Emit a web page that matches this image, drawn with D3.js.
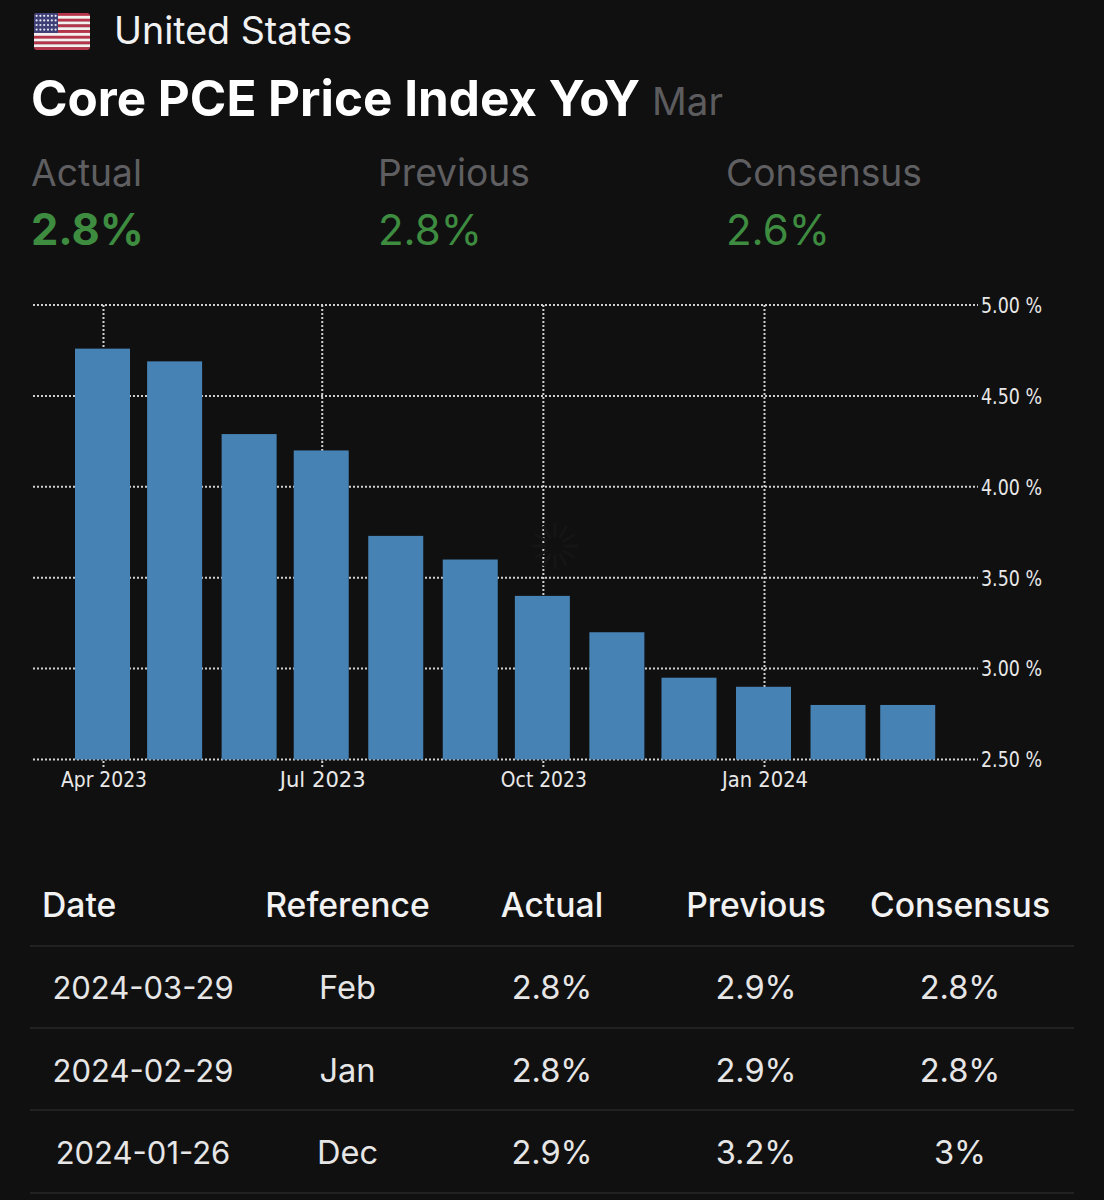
<!DOCTYPE html>
<html><head><meta charset="utf-8">
<script src="https://cdn.jsdelivr.net/npm/d3@7/dist/d3.min.js"></script>
<style>html,body{margin:0;padding:0;background:#111011;}svg{display:block}</style>
</head><body><svg id="c" width="1104" height="1200"></svg>
<script>
const months=["2023-04-01","2023-05-01","2023-06-01","2023-07-01","2023-08-01","2023-09-01","2023-10-01","2023-11-01","2023-12-01","2024-01-01","2024-02-01","2024-03-01"];
const values=[4.76,4.69,4.29,4.2,3.73,3.6,3.4,3.2,2.95,2.9,2.8,2.8];
const yTicks=[2.5,3,3.5,4,4.5,5];
const xTicks=["2023-04-01","2023-07-01","2023-10-01","2024-01-01"];
const stats=[["Actual","2.8%"],["Previous","2.8%"],["Consensus","2.6%"]];
const tableHead=["Date","Reference","Actual","Previous","Consensus"];
const tableRows=[["2024-03-29","Feb","2.8%","2.9%","2.8%"],["2024-02-29","Jan","2.8%","2.9%","2.8%"],["2024-01-26","Dec","2.9%","3.2%","3%"]];
const UI="Inter, 'Noto Sans', sans-serif", AX="'DejaVu Sans', sans-serif";
const svg=d3.select("#c");
const parse=d3.utcParse("%Y-%m-%d");
const x=d3.scaleUtc().domain([parse("2023-04-01"),parse("2024-01-01")]).range([103.5,764.5]);
const y=d3.scaleLinear().domain([2.5,5]).range([759.5,305]);
const barW=55, barShift=-1;

// flag
const flag=svg.append("g");
const fx=34,fy=13,fw=56,fh=37;
svg.append("clipPath").attr("id","fc").append("rect").attr("x",fx).attr("y",fy).attr("width",fw).attr("height",fh).attr("rx",3);
const fg=flag.append("g").attr("clip-path","url(#fc)");
d3.range(13).forEach(i=>fg.append("rect").attr("x",fx).attr("y",fy+i*fh/13).attr("width",fw).attr("height",fh/13+.3).attr("fill",i%2?"#f4f0f0":"#b5344a"));
fg.append("rect").attr("x",fx).attr("y",fy).attr("width",24).attr("height",fh*7/13).attr("fill","#3f3f78");
d3.range(4).forEach(r=>d3.range(6).forEach(c=>fg.append("circle").attr("cx",fx+2.6+c*3.8).attr("cy",fy+2.8+r*4.6).attr("r",1.1).attr("fill","#e8e8f0")));

const txt=(g,t,px,py,size,fill,weight,anchor,font)=>g.append("text").attr("x",px).attr("y",py).attr("font-size",size).attr("fill",fill).attr("font-weight",weight||400).attr("text-anchor",anchor||"start").attr("font-family",font||UI).text(t);
txt(svg,"United States",114,44,37.6,"#f2f2f2",400);
txt(svg,"Core PCE Price Index YoY",31,116,49.4,"#ffffff",700);
txt(svg,"Mar",652,115,38.5,"#5c5c5e",400);

const sx=[31,378,726];
stats.forEach((s,i)=>{
  txt(svg,s[0],sx[i],186,37.2,"#5f5f61",400);
  txt(svg,s[1],sx[i],245,i==0?43.4:42,"#3d8c40",i==0?700:400);
});

// grid
const grid=svg.append("g");
const applyDot=s=>s.attr("stroke","#cfcfcf").attr("stroke-width",2).attr("stroke-dasharray","2 2");
grid.selectAll("line.h").data(yTicks).join("line").attr("x1",33).attr("x2",978).attr("y1",d=>y(d)).attr("y2",d=>y(d)).call(applyDot);
grid.selectAll("line.v").data(xTicks).join("line").attr("x1",d=>x(parse(d))).attr("x2",d=>x(parse(d))).attr("y1",y(5)).attr("y2",y(2.5)+8).call(applyDot);

// faint spinner
const sp=svg.append("g").attr("transform","translate(555,546)");
d3.range(12).forEach(i=>sp.append("line").attr("x1",0).attr("y1",-9).attr("x2",0).attr("y2",-23).attr("stroke","#161516").attr("stroke-width",3).attr("transform",`rotate(${i*30})`));

// bars
svg.append("g").selectAll("rect").data(months).join("rect")
 .attr("x",d=>x(parse(d))-barW/2+barShift).attr("width",barW)
 .attr("y",(d,i)=>y(values[i])).attr("height",(d,i)=>y(2.5)-y(values[i]))
 .attr("fill","#4682b4");

// axes
const axY=d3.axisRight(y).tickValues(yTicks).tickSize(0).tickFormat(d=>d3.format(".2f")(d)+" %");
const gy=svg.append("g").attr("transform","translate(978,0)").call(axY);
gy.select(".domain").remove();
gy.selectAll("text").attr("x",3).attr("dy","0.35em").attr("font-family",AX).attr("font-size",21).attr("fill","#e8e8e8").attr("textLength",61).attr("lengthAdjust","spacingAndGlyphs");
const axX=d3.axisBottom(x).tickValues(xTicks.map(parse)).tickSize(0).tickFormat(d3.utcFormat("%b %Y"));
const gx=svg.append("g").attr("transform","translate(0,760)").call(axX);
gx.select(".domain").remove();
gx.selectAll("text").attr("y",27).attr("dy",0).attr("font-family",AX).attr("font-size",21).attr("fill","#e8e8e8").attr("textLength",86).attr("lengthAdjust","spacingAndGlyphs");

// table
const cols=[143,347.5,552,756,960];
const t=svg.append("g");
tableHead.forEach((h,i)=>{
  if(i==0) txt(t,h,42,917,33.7,"#f2f2f2",500);
  else txt(t,h,cols[i],917,33.7,"#f2f2f2",500,"middle");
});
const rowY=[999,1082,1164];
const lineY=[946,1028,1110,1193];
t.selectAll("line").data(lineY).join("line").attr("x1",30).attr("x2",1074).attr("y1",d=>d).attr("y2",d=>d).attr("stroke","#333335").attr("stroke-width",1);
tableRows.forEach((r,ri)=>r.forEach((c,ci)=>txt(t,c,cols[ci],rowY[ri],ci==0?31:32.6,"#e6e6e6",400,"middle")));
</script></body></html>
